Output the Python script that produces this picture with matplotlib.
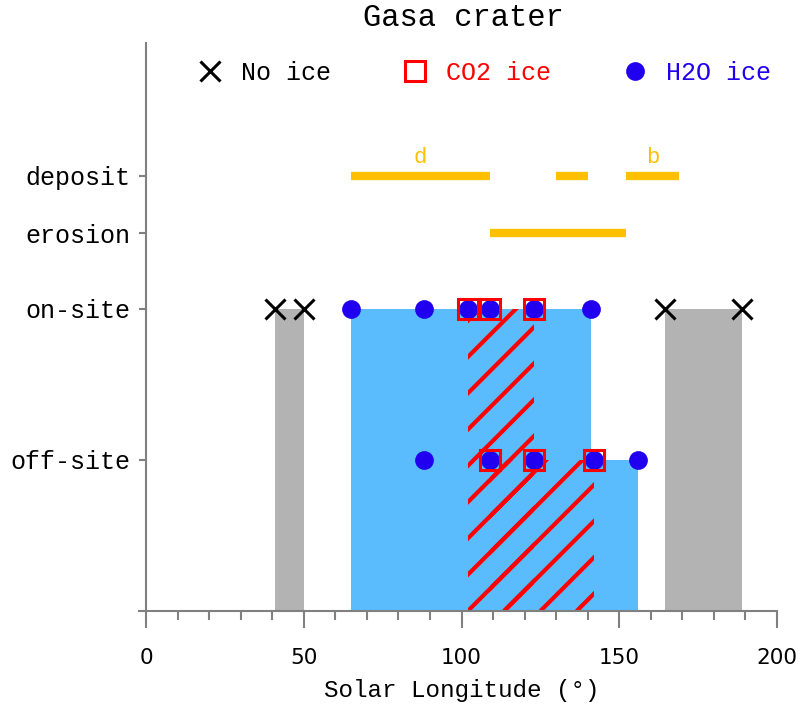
import matplotlib
matplotlib.use("Agg")
import matplotlib.pyplot as plt
from matplotlib.lines import Line2D
from matplotlib.patches import Rectangle
import numpy as np

# ---- data -------------------------------------------------------------
row_names = ["off-site", "on-site", "erosion", "deposit"]
row_levels = [1.0, 2.0, 2.5, 2.88]

no_ice_on_site = [41, 50, 164.5, 189]
gray_spans = [(41, 50), (164.5, 189)]          # no-ice periods (on-site)

h2o_on_site = [65, 88, 102, 109, 123, 141]
co2_on_site = [102, 109, 123]
h2o_off_site = [88, 109, 123, 142, 156]
co2_off_site = [109, 123, 142]

deposit_spans = [(65, 109), (130, 140), (152, 169)]
deposit_tags = ["d", "", "b"]
erosion_spans = [(109, 152)]

x_ticks = [0, 50, 100, 150, 200]

# ---- style ------------------------------------------------------------
MONO = "Liberation Mono"
BLUE_FILL = "#5bbcfd"
GRAY_FILL = "#b3b3b3"
MARK_BLUE = "#2000ee"
RED = "#ff0000"
GOLD = "#ffc000"
AXIS_GRAY = "#808080"

fig = plt.figure(figsize=(8.0, 7.06), dpi=100)
ax = fig.add_axes([146 / 800, 95 / 706, 631 / 800, 568 / 706])
ax.set_xlim(0, 200)
ax.set_ylim(0, 3.76)

y_on = row_levels[1]
y_off = row_levels[0]

# gray: no ice on-site
for a, b in gray_spans:
    ax.add_patch(Rectangle((a, 0), b - a, y_on, facecolor=GRAY_FILL,
                           edgecolor="none", zorder=1))

# blue: water ice extent (on-site to the on-site row, off-site to its row)
ax.add_patch(Rectangle((min(h2o_on_site), 0), max(h2o_on_site) - min(h2o_on_site),
                       y_on, facecolor=BLUE_FILL, edgecolor="none", zorder=1))
ax.add_patch(Rectangle((min(h2o_off_site), 0), max(h2o_off_site) - min(h2o_off_site),
                       y_off, facecolor=BLUE_FILL, edgecolor="none", zorder=1))

# red hatch: CO2 ice extent, drawn as 45-degree stripes clipped to each box
co2_boxes = [
    Rectangle((min(co2_on_site), 0), max(co2_on_site) - min(co2_on_site), y_on,
              facecolor="none", edgecolor="none"),
    Rectangle((min(co2_off_site), 0), max(co2_off_site) - min(co2_off_site), y_off,
              facecolor="none", edgecolor="none"),
]
fig.canvas.draw()
px_per_x = (ax.transData.transform((1, 0)) - ax.transData.transform((0, 0)))[0]
px_per_y = (ax.transData.transform((0, 1)) - ax.transData.transform((0, 0)))[1]
slope = px_per_x / px_per_y
stripe_step = 11.5
origin = min(co2_on_site)
for box in co2_boxes:
    ax.add_patch(box)
    for k in range(-12, 8):
        x0 = origin + k * stripe_step
        xs = np.array([x0, x0 + 4.0 / slope])
        ln, = ax.plot(xs, slope * (xs - x0), color=RED, lw=3.0,
                      solid_capstyle="butt", zorder=2)
        ln.set_clip_path(box)

# deposit / erosion bars
y_dep = row_levels[3]
y_ero = row_levels[2]
for (a, b), tag in zip(deposit_spans, deposit_tags):
    ax.hlines(y_dep, a, b, color=GOLD, lw=6, capstyle="butt", zorder=3)
    if tag:
        ax.text((a + b) / 2, y_dep + 0.12, tag, color=GOLD, fontsize=16,
                family=MONO, ha="center", va="center")
for a, b in erosion_spans:
    ax.hlines(y_ero, a, b, color=GOLD, lw=6, capstyle="butt", zorder=3)

# markers
ax.plot(h2o_on_site, [y_on] * len(h2o_on_site), "o", color=MARK_BLUE, ms=13.5,
        mec="none", zorder=4, clip_on=False)
ax.plot(h2o_off_site, [y_off] * len(h2o_off_site), "o", color=MARK_BLUE, ms=13.5,
        mec="none", zorder=4, clip_on=False)
ax.plot(co2_on_site, [y_on] * len(co2_on_site), "s", mfc="none", mec=RED, ms=14,
        mew=2.2, zorder=5, clip_on=False)
ax.plot(co2_off_site, [y_off] * len(co2_off_site), "s", mfc="none", mec=RED, ms=14,
        mew=2.2, zorder=5, clip_on=False)
ax.plot(no_ice_on_site, [y_on] * len(no_ice_on_site), "x", color="black", ms=15,
        mew=2.2, zorder=5, clip_on=False)

# axes styling
for side in ("top", "right"):
    ax.spines[side].set_visible(False)
for side in ("left", "bottom"):
    ax.spines[side].set_color(AXIS_GRAY)
    ax.spines[side].set_linewidth(1.5)
ax.spines["bottom"].set_bounds(-2.2, 200)

ax.set_xticks(x_ticks)
ax.set_xticks(np.arange(0, 201, 10), minor=True)
ax.tick_params(axis="x", which="major", direction="out", length=12, width=1.5,
               color=AXIS_GRAY, labelsize=15.5, pad=15)
ax.tick_params(axis="x", which="minor", direction="out", length=6.5, width=1.5,
               color=AXIS_GRAY)
ax.set_yticks(row_levels)
ax.set_yticklabels(row_names, family=MONO, fontsize=18)
ax.tick_params(axis="y", direction="out", length=5, width=1.5, color=AXIS_GRAY,
               pad=6)

ax.set_xlabel("Solar Longitude (°)", family=MONO, fontsize=17.5)
ax.xaxis.set_label_coords(0.5, -(690 - 611) / 568)
ax.xaxis.label.set_va("center")

fig.text(463 / 800, 1 - 18 / 706, "Gasa crater", family=MONO, fontsize=22,
         ha="center", va="center")

handles = [
    Line2D([], [], ls="none", marker="x", color="black", ms=15, mew=2.2),
    Line2D([], [], ls="none", marker="s", mfc="none", mec=RED, ms=14, mew=2.2),
    Line2D([], [], ls="none", marker="o", color=MARK_BLUE, ms=13.5, mec="none"),
]
fig.legend(handles, ["No ice", "CO2 ice", "H2O ice"], loc="center left",
           bbox_to_anchor=(197 / 800, 1 - 73 / 706), ncol=3, frameon=False,
           prop={"family": MONO, "size": 18}, labelcolor=["black", RED, MARK_BLUE],
           handlelength=1.0, handletextpad=0.75, columnspacing=2.85,
           borderpad=0, borderaxespad=0)

fig.savefig("out.png", dpi=100)
